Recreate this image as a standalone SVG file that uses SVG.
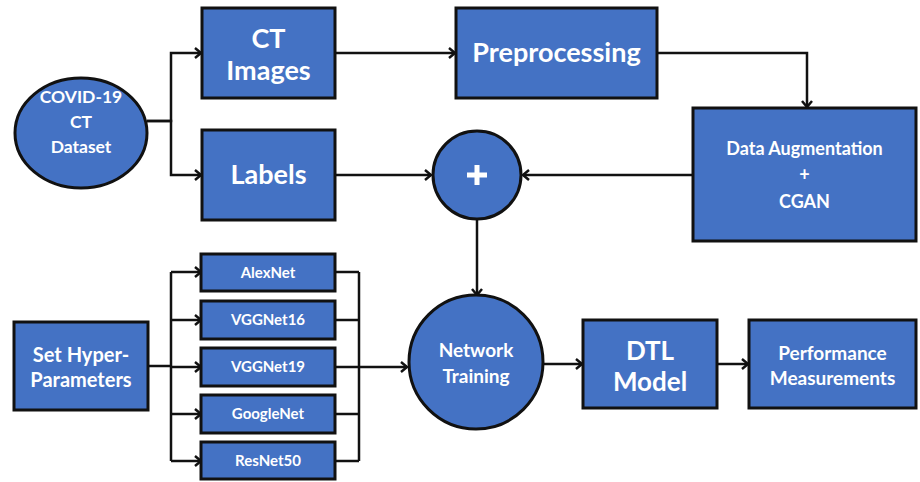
<svg xmlns="http://www.w3.org/2000/svg" width="920" height="482" viewBox="0 0 920 482">
<style>
.n{fill:#4472C4;stroke:#111;stroke-width:3}
.t{fill:#fff;font-family:Lato,"Open Sans",sans-serif;font-weight:bold;text-anchor:middle}
.c{fill:none;stroke:#111;stroke-width:2.5}
.a{marker-end:url(#ar)}
</style>
<defs>
<marker id="ar" markerWidth="10" markerHeight="12" refX="8" refY="6" orient="auto" markerUnits="userSpaceOnUse">
<path d="M2,1 L8,6 L2,11" fill="none" stroke="#111" stroke-width="2.5"/>
</marker>
</defs>
<rect width="920" height="482" fill="#fff"/>
<g id="connectors">
<path class="c a" d="M147,121 H171 V53 H201"/>
<path class="c a" d="M147,121 H171 V175 H201"/>
<path class="c a" d="M335,53 H455"/>
<path class="c a" d="M657,53 H807 V107"/>
<path class="c a" d="M335,175 H431"/>
<path class="c a" d="M693,175 H523"/>
<path class="c a" d="M477,219 V295"/>
<path class="c" d="M148,366 H171 M171,272 V461"/>
<path class="c a" d="M171,272 H201"/>
<path class="c a" d="M171,320 H201"/>
<path class="c a" d="M171,367 H201"/>
<path class="c a" d="M171,414 H201"/>
<path class="c a" d="M171,461 H201"/>
<path class="c" d="M335,272 H359 M335,320 H359 M335,367 H359 M335,414 H359 M335,461 H359 M359,272 V461"/>
<path class="c a" d="M359,367 H407"/>
<path class="c a" d="M544,364 H582"/>
<path class="c a" d="M717,364 H748"/>
</g>
<g id="covid">
<ellipse class="n" cx="81" cy="133" rx="66" ry="55"/>
<text class="t" font-size="17.5"><tspan x="81" y="103">COVID-19</tspan><tspan x="81" y="128">CT</tspan><tspan x="81" y="153">Dataset</tspan></text>
</g>
<g id="ctimages">
<rect class="n" x="202" y="8" width="133" height="90"/>
<text class="t" font-size="27"><tspan x="268.5" y="48">CT</tspan><tspan x="268.5" y="80">Images</tspan></text>
</g>
<g id="labels">
<rect class="n" x="202" y="130" width="133" height="90"/>
<text class="t" font-size="27" x="268.5" y="184">Labels</text>
</g>
<g id="preprocessing">
<rect class="n" x="456" y="8" width="201" height="90"/>
<text class="t" font-size="27" x="556.5" y="62">Preprocessing</text>
</g>
<g id="augmentation">
<rect class="n" x="693" y="108" width="223" height="133"/>
<text class="t" font-size="18"><tspan x="804.5" y="155">Data Augmentation</tspan><tspan x="804.5" y="181">+</tspan><tspan x="804.5" y="208">CGAN</tspan></text>
</g>
<g id="plus">
<circle class="n" cx="477" cy="175" r="44"/>
<path d="M477,165 V185 M467,175 H487" stroke="#fff" stroke-width="5"/>
</g>
<g id="sethyper">
<rect class="n" x="14" y="322" width="134" height="88"/>
<text class="t" font-size="20"><tspan x="81" y="362">Set Hyper-</tspan><tspan x="81" y="387">Parameters</tspan></text>
</g>
<g id="alexnet">
<rect class="n" x="201" y="254" width="134" height="37"/>
<text class="t" font-size="15" x="268" y="278">AlexNet</text>
</g>
<g id="vggnet16">
<rect class="n" x="201" y="301" width="134" height="38"/>
<text class="t" font-size="15" x="268" y="325">VGGNet16</text>
</g>
<g id="vggnet19">
<rect class="n" x="201" y="348" width="134" height="38"/>
<text class="t" font-size="15" x="268" y="372">VGGNet19</text>
</g>
<g id="googlenet">
<rect class="n" x="201" y="395" width="134" height="38"/>
<text class="t" font-size="15" x="268" y="419">GoogleNet</text>
</g>
<g id="resnet50">
<rect class="n" x="201" y="442" width="134" height="37"/>
<text class="t" font-size="15" x="268" y="466">ResNet50</text>
</g>
<g id="training">
<circle class="n" cx="476" cy="362" r="67"/>
<text class="t" font-size="19"><tspan x="476" y="357">Network</tspan><tspan x="476" y="383">Training</tspan></text>
</g>
<g id="dtl">
<rect class="n" x="583" y="320" width="134" height="88"/>
<text class="t" font-size="26"><tspan x="650" y="360">DTL</tspan><tspan x="650" y="391">Model</tspan></text>
</g>
<g id="performance">
<rect class="n" x="749" y="320" width="167" height="88"/>
<text class="t" font-size="19"><tspan x="832.5" y="360">Performance</tspan><tspan x="832.5" y="385">Measurements</tspan></text>
</g>
</svg>
